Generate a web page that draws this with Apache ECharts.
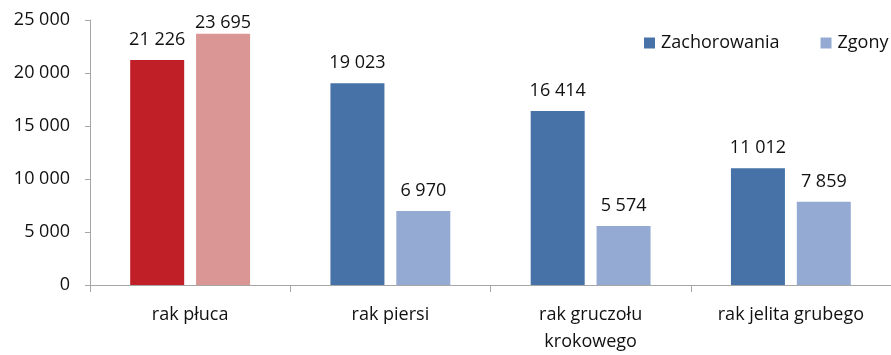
<!DOCTYPE html>
<html>
<head>
<meta charset="utf-8">
<script src="https://cdn.jsdelivr.net/npm/echarts@6/dist/echarts.min.js"></script>
<style>
  html, body { margin: 0; padding: 0; background: #ffffff; }
  #chart { width: 891px; height: 355px; }
</style>
</head>
<body>
<div id="chart"></div>
<script>
// Cancer types (categories) and counts
const categories = ['rak płuca', 'rak piersi', 'rak gruczołu\nkrokowego', 'rak jelita grubego'];
const seriesNames = ['Zachorowania', 'Zgony'];
const zachorowania = [21226, 19023, 16414, 11012];
const zgony = [23695, 6970, 5574, 7859];
const yTicks = [0, 5000, 10000, 15000, 20000, 25000];

// Colours: blue pair for the series, red pair to highlight lung cancer
const seriesColors = ['#4672A8', '#95AAD3'];
const highlightColors = ['#C01F28', '#DA9694'];
const highlightIndex = 0;

const FONT = '"Open Sans", "Liberation Sans", sans-serif';
const TEXT = '#111111';

function fmt(n) {
  return String(n).replace(/\B(?=(\d{3})+(?!\d))/g, ' ');
}

function buildData(values, s) {
  return values.map((v, i) => {
    const item = { value: v };
    if (i === highlightIndex) {
      item.itemStyle = { color: highlightColors[s] };
    }
    return item;
  });
}

const zgonyData = buildData(zgony, 1);
// top label kept inside the plot area for the tallest bar
const maxIdx = zgony.indexOf(Math.max(...zgony));
zgonyData[maxIdx].label = { offset: [0, 9] };

const chart = echarts.init(document.getElementById('chart'), null, { renderer: 'canvas' });
chart.setOption({
  animation: false,
  backgroundColor: '#ffffff',
  textStyle: { fontFamily: FONT },
  grid: { left: 90, top: 20, height: 270, width: 806, containLabel: false },
  legend: {
    data: seriesNames,
    orient: 'horizontal',
    left: 639,
    top: 29,
    width: 400,
    icon: 'rect',
    itemWidth: 11,
    itemHeight: 11,
    itemGap: 41,
    textStyle: { fontFamily: FONT, fontSize: 18, color: TEXT, padding: [0, 0, 0, 1] }
  },
  xAxis: {
    type: 'category',
    data: categories,
    axisLine: { show: true, lineStyle: { color: '#A6A6A6', width: 1 } },
    axisTick: { show: true, alignWithLabel: false, length: 7, lineStyle: { color: '#A6A6A6' } },
    axisLabel: { fontFamily: FONT, fontSize: 18, color: TEXT, margin: 16, lineHeight: 27, interval: 0 },
    splitLine: { show: false }
  },
  yAxis: {
    type: 'value',
    min: yTicks[0],
    max: yTicks[yTicks.length - 1],
    interval: yTicks[1] - yTicks[0],
    axisLine: { show: true, lineStyle: { color: '#A6A6A6', width: 1 } },
    axisTick: { show: true, inside: false, length: 5, lineStyle: { color: '#A6A6A6' } },
    axisLabel: { fontFamily: FONT, fontSize: 18, color: TEXT, margin: 20, formatter: fmt },
    splitLine: { show: false }
  },
  series: [
    {
      name: seriesNames[0],
      type: 'bar',
      data: buildData(zachorowania, 0),
      itemStyle: { color: seriesColors[0] },
      barWidth: 54,
      barGap: '22%',
      label: { show: true, position: 'top', distance: 11, fontFamily: FONT, fontSize: 18, color: TEXT, formatter: p => fmt(p.value) }
    },
    {
      name: seriesNames[1],
      type: 'bar',
      data: zgonyData,
      itemStyle: { color: seriesColors[1] },
      barWidth: 54,
      barGap: '22%',
      label: { show: true, position: 'top', distance: 11, fontFamily: FONT, fontSize: 18, color: TEXT, formatter: p => fmt(p.value) }
    }
  ]
});
</script>
</body>
</html>
